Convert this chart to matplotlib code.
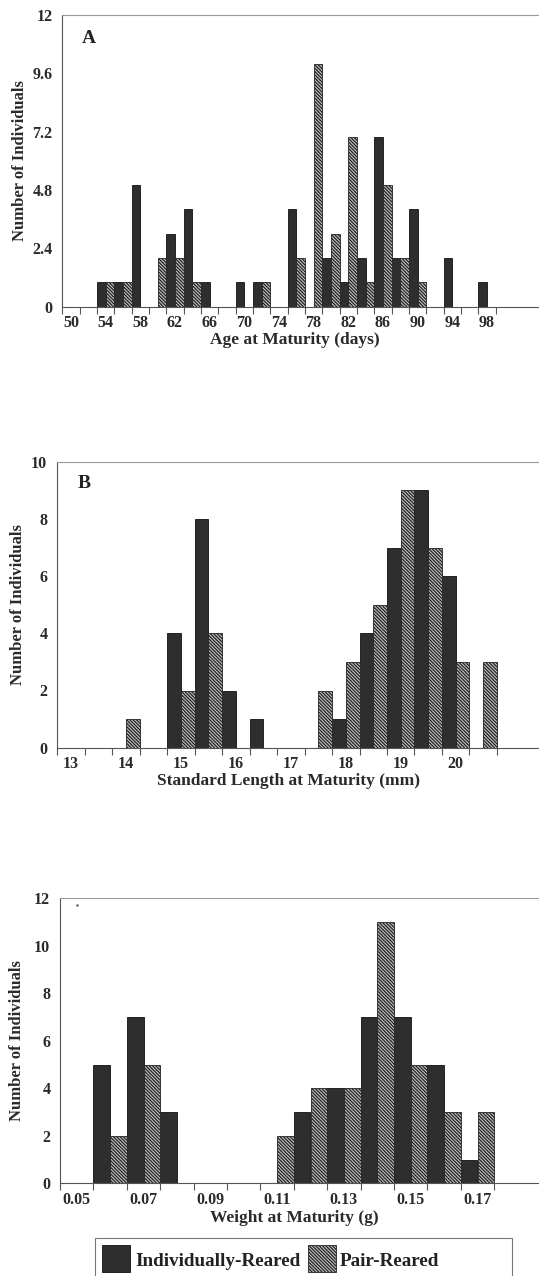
import matplotlib
matplotlib.use("Agg")
import matplotlib.pyplot as plt
from matplotlib.patches import Rectangle
import matplotlib as mpl

# ---------------- data ----------------
age_bins = [50, 52, 54, 56, 58, 60, 62, 64, 66, 68, 70, 72, 74, 76, 78, 80, 82, 84, 86, 88, 90, 92, 94, 96, 98, 100]
age_individual = [0, 0, 1, 1, 5, 0, 3, 4, 1, 0, 1, 1, 0, 4, 0, 2, 1, 2, 7, 2, 4, 0, 2, 0, 1, 0]
age_pair = [0, 0, 1, 1, 0, 2, 2, 1, 0, 0, 0, 1, 0, 2, 10, 3, 7, 1, 5, 2, 1, 0, 0, 0, 0, 0]
age_ticklabels = [50, 54, 58, 62, 66, 70, 74, 78, 82, 86, 90, 94, 98]
age_yticks = [0, 2.4, 4.8, 7.2, 9.6, 12]

len_bins = [13.0, 13.5, 14.0, 14.5, 15.0, 15.5, 16.0, 16.5, 17.0, 17.5, 18.0, 18.5, 19.0, 19.5, 20.0, 20.5, 21.0]
len_individual = [0, 0, 0, 0, 4, 8, 2, 1, 0, 0, 1, 4, 7, 9, 6, 0, 0]
len_pair = [0, 0, 1, 0, 2, 4, 0, 0, 0, 2, 3, 5, 9, 7, 3, 3, 0]
len_ticklabels = [13, 14, 15, 16, 17, 18, 19, 20]
len_yticks = [0, 2, 4, 6, 8, 10]

wt_bins = [0.05, 0.06, 0.07, 0.08, 0.09, 0.10, 0.11, 0.12, 0.13, 0.14, 0.15, 0.16, 0.17, 0.18]
wt_individual = [0, 5, 7, 3, 0, 0, 0, 3, 4, 7, 7, 5, 1, 0]
wt_pair = [0, 2, 5, 0, 0, 0, 2, 4, 4, 11, 5, 3, 3, 0]
wt_ticklabels = ["0.05", "0.07", "0.09", "0.11", "0.13", "0.15", "0.17"]
wt_tickpos = [0.05, 0.07, 0.09, 0.11, 0.13, 0.15, 0.17]
wt_yticks = [0, 2, 4, 6, 8, 10, 12]

series_names = ["Individually-Reared", "Pair-Reared"]

# ---------------- style ----------------
mpl.rcParams['font.family'] = ['Liberation Serif', 'DejaVu Serif']
mpl.rcParams['font.weight'] = 'bold'
mpl.rcParams['hatch.linewidth'] = 0.9
mpl.rcParams['hatch.color'] = '#2a2a2a'

DARK = '#2e2e2e'
LIGHT = '#c4c4c4'
SPINE = '#555555'
HATCH = '\\' * 10

W, H = 539, 1276
fig = plt.figure(figsize=(W / 100, H / 100), dpi=100)


def px_axes(left, top, bottom, right=W):
    return fig.add_axes([left / W, 1 - bottom / H, (right - left) / W, (bottom - top) / H])


def draw_panel(ax, bins, ind, pair, binw, xlim, ylim, yticks, ytl, tickpos, ticklabels,
               xlabel, xlab_xy, ylab_xy, letter=None, letter_xy=None):
    for c, v in zip(bins, ind):
        if v > 0:
            ax.bar(c - binw / 4, v, width=binw / 2, color=DARK, edgecolor='#111111', linewidth=0.6)
    for c, v in zip(bins, pair):
        if v > 0:
            ax.bar(c + binw / 4, v, width=binw / 2, color=LIGHT, edgecolor='#222222',
                   linewidth=0.6, hatch=HATCH)
    ax.set_xlim(*xlim)
    ax.set_ylim(*ylim)
    ax.set_yticks(yticks)
    ax.set_yticklabels(ytl, fontsize=11.5, fontweight='bold', color='#2a2a2a')
    ax.tick_params(axis='y', length=0, pad=7)
    edges = [c - binw / 2 for c in bins]
    ax.set_xticks(edges, minor=True)
    ax.set_xticks(tickpos)
    ax.set_xticklabels(ticklabels, fontsize=11.5, fontweight='bold', color='#2a2a2a')
    ax.tick_params(axis='x', which='major', length=0, pad=6)
    ax.tick_params(axis='x', which='minor', length=5, width=0.8, color=SPINE, direction='out')
    for s in ['left', 'bottom', 'top']:
        ax.spines[s].set_color(SPINE)
        ax.spines[s].set_linewidth(0.8)
    ax.spines['top'].set_color('#999999')
    ax.spines['right'].set_visible(False)
    ax.set_xlabel(xlabel, fontsize=12.5, fontweight='bold', color='#2a2a2a', va='top')
    ax.xaxis.set_label_coords(*xlab_xy)
    ax.set_ylabel("Number of Individuals", fontsize=12, fontweight='bold', color='#2a2a2a')
    ax.yaxis.set_label_coords(*ylab_xy)
    if letter:
        ax.text(letter_xy[0], letter_xy[1], letter, transform=ax.transAxes, fontsize=14,
                fontweight='bold', color='#222222', va='baseline', ha='left')


# Panel A
axA = px_axes(62.3, 15, 306.7)
binw = 2
x0 = 49
x1 = x0 + (W - 62.3) / 17.33 * binw
draw_panel(axA, age_bins, age_individual, age_pair, binw, (x0, x1), (0, 12), age_yticks,
           ["0", "2.4", "4.8", "7.2", "9.6", "12"], age_ticklabels, [str(v) for v in age_ticklabels],
           "Age at Maturity (days)", (0.488, -0.088), (-0.072, 0.5), "A", (0.041, 0.904))

# Panel B
axB = px_axes(57, 461.7, 747.7)
binw = 0.5
x0 = 12.75
x1 = x0 + (W - 57) / 27.5 * binw
draw_panel(axB, len_bins, len_individual, len_pair, binw, (x0, x1), (0, 10), len_yticks,
           [str(v) for v in len_yticks], len_ticklabels, [str(v) for v in len_ticklabels],
           "Standard Length at Maturity (mm)", (0.480, -0.088), (-0.064, 0.5), "B", (0.0436, 0.907))

# Panel C
axC = px_axes(60, 898.3, 1183.3)
binw = 0.01
x0 = 0.045
x1 = x0 + (W - 60) / 33.4 * binw
draw_panel(axC, wt_bins, wt_individual, wt_pair, binw, (x0, x1), (0, 12), wt_yticks,
           [str(v) for v in wt_yticks], wt_tickpos, wt_ticklabels,
           "Weight at Maturity (g)", (0.489, -0.095), (-0.073, 0.5))
axC.plot([0.0501], [11.72], marker='.', markersize=1.5, color='#555555')


# Legend (drawn manually in pixel coordinates)
def fx(x):
    return x / W


def fy(y):
    return 1 - y / H


fig.patches.append(Rectangle((fx(95), fy(1290)), fx(512) - fx(95), fy(1238) - fy(1290),
                             transform=fig.transFigure, facecolor='white', edgecolor='#777777',
                             linewidth=0.8))
fig.patches.append(Rectangle((fx(102), fy(1272)), fx(130) - fx(102), fy(1245) - fy(1272),
                             transform=fig.transFigure, facecolor=DARK, edgecolor='#111111',
                             linewidth=0.6))
fig.patches.append(Rectangle((fx(308), fy(1272)), fx(336) - fx(308), fy(1245) - fy(1272),
                             transform=fig.transFigure, facecolor=LIGHT, edgecolor='#222222',
                             linewidth=0.6, hatch=HATCH))
fig.text(fx(135), fy(1266), series_names[0], fontsize=13.8, fontweight='bold', color='#222222',
         va='baseline', ha='left')
fig.text(fx(340), fy(1266), series_names[1], fontsize=13.8, fontweight='bold', color='#222222',
         va='baseline', ha='left')

fig.savefig("out.png", dpi=100)
